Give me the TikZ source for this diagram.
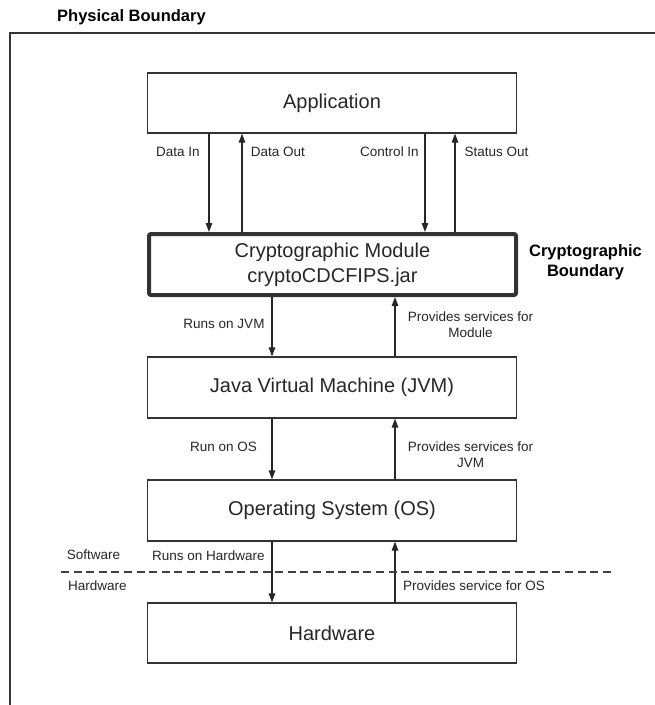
\documentclass[tikz,border=0pt]{standalone}
\usepackage{fontspec}
\setmainfont{Liberation Sans}
\usetikzlibrary{arrows.meta}

\begin{document}
\begin{tikzpicture}[x=1pt,y=-1pt,
    layer/.style={draw=black!80,line width=1.2pt,minimum width=369pt,minimum height=60pt,
      inner sep=0pt,align=center,text=black!85,font=\fontsize{20}{25}\selectfont},
    module/.style={layer,line width=4pt,rounded corners=2pt,minimum width=367pt,minimum height=61pt},
    lbl/.style={inner sep=0pt,align=center,text=black!85,font=\fontsize{13.5}{16}\selectfont},
    heading/.style={inner sep=0pt,align=center,font=\bfseries\fontsize{16.5}{20}\selectfont},
    flow/.style={draw=black!85,line width=1.2pt,-{Triangle[length=9pt,width=6.5pt]}}]
      \useasboundingbox (0,0) rectangle (655,705);

      % physical boundary
      \coordinate (pb1) at (655,33);
      \coordinate (pb2) at (10,33);
      \coordinate (pb3) at (10,705);
      \draw[black!80,line width=1.2pt] (pb1) -- (pb2) -- (pb3);
      \node[heading,anchor=west] (pbtext) at (57,17) {Physical Boundary};

      % layers
      \node[layer] (app) at (332,103) {Application};
      \node[module] (crypto) at (332.5,264.5) {Cryptographic Module\\cryptoCDCFIPS.jar};
      \node[layer,minimum height=61pt] (jvm) at (332,387.5) {Java Virtual Machine (JVM)};
      \node[layer,minimum height=61pt] (os) at (332,510.5) {Operating System (OS)};
      \node[layer] (hw) at (332,633) {Hardware};
      \node[heading] (cbtext) at (585.5,262) {Cryptographic\\Boundary};

      % arrow columns
      \coordinate (din) at (209,0);
      \coordinate (dout) at (242,0);
      \coordinate (cin) at (425,0);
      \coordinate (sout) at (455,0);
      \coordinate (down) at (272,0);
      \coordinate (up) at (395,0);

      \draw[flow] (app.south -| din) -- (crypto.north -| din);
      \draw[flow] (crypto.north -| dout) -- (app.south -| dout);
      \draw[flow] (app.south -| cin) -- (crypto.north -| cin);
      \draw[flow] (crypto.north -| sout) -- (app.south -| sout);

      \draw[flow] (crypto.south -| down) -- (jvm.north -| down);
      \draw[flow] (jvm.north -| up) -- (crypto.south -| up);
      \draw[flow] (jvm.south -| down) -- (os.north -| down);
      \draw[flow] (os.north -| up) -- (jvm.south -| up);
      \draw[flow] (os.south -| down) -- (hw.north -| down);
      \draw[flow] (hw.north -| up) -- (os.south -| up);

      % labels
      \node[lbl] (l1) at (178,152) {Data In};
      \node[lbl] (l2) at (278,152) {Data Out};
      \node[lbl] (l3) at (389.5,152) {Control In};
      \node[lbl] (l4) at (496.5,152) {Status Out};
      \node[lbl] (l5) at (224,324) {Runs on JVM};
      \node[lbl] (l6) at (470.5,325) {Provides services for\\Module};
      \node[lbl] (l7) at (223.5,447) {Run on OS};
      \node[lbl] (l8) at (470.5,455) {Provides services for\\JVM};
      \node[lbl] (l9) at (208.5,556) {Runs on Hardware};
      \node[lbl] (l10) at (474,586) {Provides service for OS};

      % software / hardware split
      \coordinate (sw1) at (61,572);
      \coordinate (sw2) at (612,572);
      \draw[black!75,line width=1.2pt,dash pattern=on 8pt off 4.6pt] (sw1) -- (sw2);
      \node[lbl] (sw) at (93.5,555) {Software};
      \node[lbl] (hwtext) at (97.5,586) {Hardware};
    \end{tikzpicture}
\end{document}
